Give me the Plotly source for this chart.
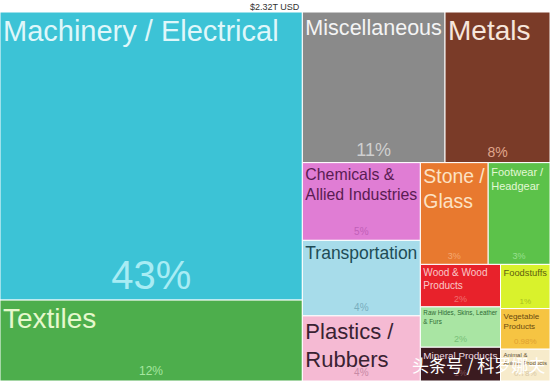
import plotly.graph_objects as go

# Product categories (China exports, $2.32T USD)
categories = [
    "Machinery / Electrical", "Textiles", "Miscellaneous", "Metals",
    "Chemicals & Allied Industries", "Transportation", "Plastics / Rubbers",
    "Stone / Glass", "Footwear / Headgear", "Wood & Wood Products",
    "Raw Hides, Skins, Leather & Furs", "Mineral Products", "Foodstuffs",
    "Vegetable Products", "Animal & Animal Products",
]
# export value, billions USD (estimated from tile areas)
values = [997, 280, 246, 181, 105, 102, 88, 79, 72, 39, 37, 31, 25, 23, 18]
# display labels (wrapped as in the picture)
display_labels = [
    "Machinery / Electrical", "Textiles", "Miscellaneous", "Metals",
    "Chemicals &<br>Allied Industries", "Transportation", "Plastics /<br>Rubbers",
    "Stone /<br>Glass", "Footwear /<br>Headgear", "Wood & Wood<br>Products",
    "Raw Hides, Skins, Leather<br>& Furs", "Mineral Products", "Foodstuffs",
    "Vegetable<br>Products", "Animal &<br>Animal Products",
]
share_labels = ["43%", "12%", "11%", "8%", "5%", "4%", "4%", "3%", "3%",
                "2%", "2%", "1%", "1%", "0.98%", "0.78%"]
title_text = "$2.32T USD"
root_name = "China exports"

tile_colors = ["#3CC3D6", "#4DAE4C", "#8A8A8A", "#7A3B28", "#E07DD4",
               "#A7DCEA", "#F5BAD3", "#E8792F", "#5CC24A", "#E8222B",
               "#A9E5A3", "#3B1B20", "#D9F22C", "#F6C442", "#F7EBCB"]
label_colors = ["#DFF7FA", "#E6F8CC", "#F4F4F4", "#F6E6DC", "#5A1C52",
                "#1E4C56", "#3A2232", "#FCE2C4", "#E2F8D4", "#F9C8C8",
                "#2E6A34", "#F0DCE2", "#5E6010", "#6A4A10", "#5A4A30"]
share_colors = ["#A8ECF4", "#A6E6A0", "#CFCFCF", "#E0A68C", "#C060B8",
                "#78AEBE", "#C88AA6", "#F4A870", "#98E090", "#F07070",
                "#78C078", "#7A4A50", "#A8C020", "#E0A030", "#D8C8A8"]
label_sizes = [29, 28, 24, 28, 18, 20, 22, 20, 11, 10, 8, 10, 10, 8, 8]
share_sizes = [40, 12, 18, 14, 10, 10, 10, 9, 9, 9, 9, 9, 8, 8, 8]

ids = [root_name] + categories
parents = [""] + [root_name] * len(categories)
vals = [sum(values)] + values
top = 1 - 12 / 381
FONT = "Liberation Sans, Arial, sans-serif"


def trace(text, colors, line_color, line_width, font_colors, font_sizes, pos):
    return go.Treemap(
        ids=ids, labels=ids, parents=parents, values=vals,
        sort=True, branchvalues="total",
        tiling=dict(packing="squarify", squarifyratio=1.618, pad=0),
        domain=dict(x=[0, 1], y=[0, top]),
        hoverinfo="skip", pathbar=dict(visible=False),
        text=[""] + text, texttemplate="%{text}", textposition=pos,
        textfont=dict(family=FONT, color=["#FFFFFF"] + font_colors,
                      size=[1] + font_sizes),
        marker=dict(colors=["rgba(0,0,0,0)"] + colors,
                    line=dict(color=line_color, width=line_width),
                    pad=dict(t=0, l=0, r=0, b=0)),
    )


fig = go.Figure()
fig.add_trace(trace(display_labels, tile_colors, "#FFFFFF", 1,
                    label_colors, label_sizes, "top left"))
fig.add_trace(trace(share_labels, ["rgba(0,0,0,0)"] * len(categories),
                    "rgba(0,0,0,0)", 0, share_colors, share_sizes,
                    "bottom center"))

fig.update_layout(
    width=550, height=381,
    margin=dict(l=0, r=0, t=0, b=0),
    paper_bgcolor="#FFFFFF",
    showlegend=False,
    annotations=[
        dict(text=title_text, x=0.5, y=1, xref="paper", yref="paper",
             xanchor="center", yanchor="top", showarrow=False,
             font=dict(family=FONT, size=9, color="#333333")),
        dict(text="头条号 / 科罗娜夫", x=0.995, y=0.005, xref="paper", yref="paper",
             xanchor="right", yanchor="bottom", showarrow=False,
             font=dict(family="Noto Sans CJK SC", size=17, color="#FFFFFF")),
    ],
)

fig.write_html("out.html", config={"displayModeBar": False},
               post_script="document.body.style.margin='0';")
